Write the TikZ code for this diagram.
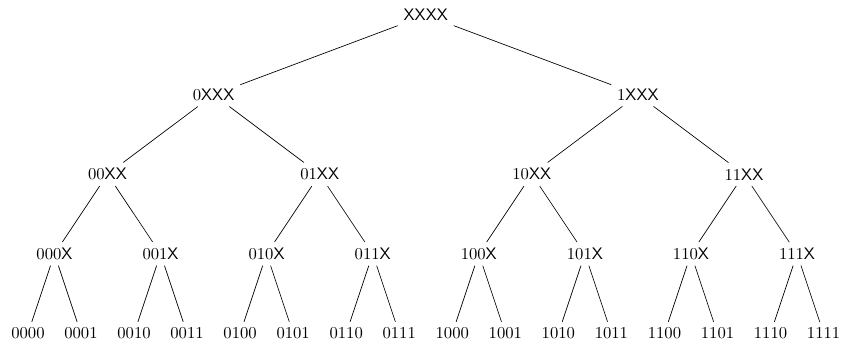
\documentclass[tikz,border=0pt]{standalone}
\usepackage{tikz}

\begin{document}
\begin{tikzpicture}
%%%
\useasboundingbox (0,0) rectangle (17.8,7.24);

% root and first split
\node (nXXXX) at (8.99, 6.92) {\textsf{XXXX}};
\node (n0XXX) at (4.51, 5.24) {0\textsf{XXX}};
\node (n1XXX) at (13.47, 5.24) {1\textsf{XXX}};

% two bits fixed
\node (n00XX) at (2.27, 3.56) {00\textsf{XX}};
\node (n01XX) at (6.75, 3.56) {01\textsf{XX}};
\node (n10XX) at (11.23, 3.56) {10\textsf{XX}};
\node (n11XX) at (15.71, 3.56) {11\textsf{XX}};

% three bits fixed
\node (n000X) at (1.15, 1.88) {000\textsf{X}};
\node (n001X) at (3.39, 1.88) {001\textsf{X}};
\node (n010X) at (5.63, 1.88) {010\textsf{X}};
\node (n011X) at (7.87, 1.88) {011\textsf{X}};
\node (n100X) at (10.11, 1.88) {100\textsf{X}};
\node (n101X) at (12.35, 1.88) {101\textsf{X}};
\node (n110X) at (14.59, 1.88) {110\textsf{X}};
\node (n111X) at (16.83, 1.88) {111\textsf{X}};

% leaves
\node (n0000) at (0.59, 0.2) {0000};
\node (n0001) at (1.71, 0.2) {0001};
\node (n0010) at (2.83, 0.2) {0010};
\node (n0011) at (3.95, 0.2) {0011};
\node (n0100) at (5.07, 0.2) {0100};
\node (n0101) at (6.19, 0.2) {0101};
\node (n0110) at (7.31, 0.2) {0110};
\node (n0111) at (8.43, 0.2) {0111};
\node (n1000) at (9.55, 0.2) {1000};
\node (n1001) at (10.67, 0.2) {1001};
\node (n1010) at (11.79, 0.2) {1010};
\node (n1011) at (12.91, 0.2) {1011};
\node (n1100) at (14.03, 0.2) {1100};
\node (n1101) at (15.15, 0.2) {1101};
\node (n1110) at (16.27, 0.2) {1110};
\node (n1111) at (17.39, 0.2) {1111};

% edges
  \draw (nXXXX) -- (n0XXX);
  \draw (nXXXX) -- (n1XXX);

  \draw (n0XXX) -- (n00XX);
  \draw (n0XXX) -- (n01XX);
  \draw (n1XXX) -- (n10XX);
  \draw (n1XXX) -- (n11XX);

  \draw (n00XX) -- (n000X);
  \draw (n00XX) -- (n001X);
  \draw (n01XX) -- (n010X);
  \draw (n01XX) -- (n011X);
  \draw (n10XX) -- (n100X);
  \draw (n10XX) -- (n101X);
  \draw (n11XX) -- (n110X);
  \draw (n11XX) -- (n111X);

  \draw (n000X) -- (n0000);
  \draw (n000X) -- (n0001);
  \draw (n001X) -- (n0010);
  \draw (n001X) -- (n0011);
  \draw (n010X) -- (n0100);
  \draw (n010X) -- (n0101);
  \draw (n011X) -- (n0110);
  \draw (n011X) -- (n0111);
  \draw (n100X) -- (n1000);
  \draw (n100X) -- (n1001);
  \draw (n101X) -- (n1010);
  \draw (n101X) -- (n1011);
  \draw (n110X) -- (n1100);
  \draw (n110X) -- (n1101);
  \draw (n111X) -- (n1110);
  \draw (n111X) -- (n1111);
%%%
\end{tikzpicture}
\end{document}
